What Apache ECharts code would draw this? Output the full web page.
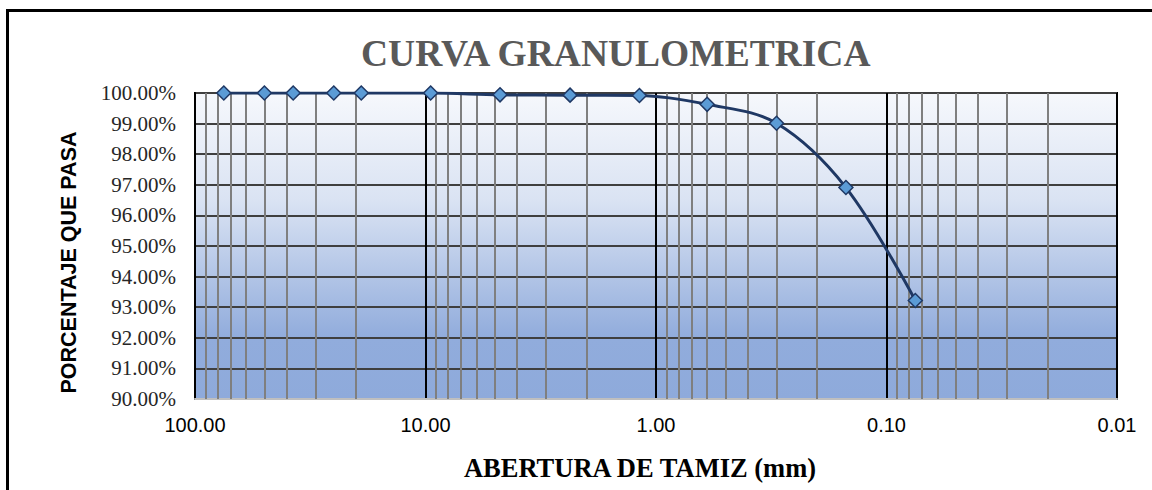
<!DOCTYPE html>
<html>
<head>
<meta charset="utf-8">
<script src="https://cdn.jsdelivr.net/npm/echarts@6/dist/echarts.min.js"></script>
<style>
  html, body { margin: 0; padding: 0; background: #ffffff; }
  #chart { width: 1152px; height: 490px; }
</style>
</head>
<body>
<div id="chart"></div>
<script>
// Sieve openings (mm) and cumulative percent passing
const sieveSizes = [75, 50, 37.5, 25, 19, 9.5, 4.75, 2.36, 1.18, 0.6, 0.3, 0.15, 0.075];
const percentPassing = [100, 100, 100, 100, 100, 100, 99.94, 99.93, 99.92, 99.63, 99.01, 96.91, 93.22];

// Axis ranges and ticks
const xDecades = [0.01, 0.1, 1, 10, 100];
const yTicks = [90, 91, 92, 93, 94, 95, 96, 97, 98, 99, 100];
const minorMultiples = [2, 3, 4, 5, 6, 7, 8, 9];

const titleText = 'CURVA GRANULOMETRICA';
const xName = 'ABERTURA DE TAMIZ (mm)';
const yName = 'PORCENTAJE QUE PASA';

// Intermediate log grid lines (2..9 within each decade)
const minorLines = [];
for (let d = 0; d < xDecades.length - 1; d++) {
  for (const m of minorMultiples) {
    minorLines.push({ xAxis: +(xDecades[d] * m).toPrecision(6) });
  }
}

const points = sieveSizes.map((s, i) => [s, percentPassing[i]]);

const chart = echarts.init(document.getElementById('chart'), null, { renderer: 'svg' });
chart.setOption({
  animation: false,
  backgroundColor: '#ffffff',
  title: {
    text: titleText,
    left: 361,
    top: 34,
    padding: 0,
    textStyle: {
      fontFamily: '"Liberation Serif", "Times New Roman", serif',
      fontWeight: 'bold',
      fontSize: 37.5,
      color: '#595959'
    }
  },
  graphic: [{
    type: 'rect',
    silent: true,
    shape: { x: 7.5, y: 10.5, width: 1300, height: 700 },
    style: { fill: 'none', stroke: '#000000', lineWidth: 3 }
  }],
  grid: {
    left: 195, top: 93, right: 35, bottom: 91,
    show: true,
    borderColor: '#000000',
    borderWidth: 2,
    backgroundColor: {
      type: 'linear', x: 0, y: 0, x2: 0, y2: 1,
      colorStops: [
        { offset: 0, color: '#f6f8fc' },
        { offset: 0.35, color: '#dae3f3' },
        { offset: 0.8, color: '#91acdc' },
        { offset: 1, color: '#8eaadb' }
      ]
    }
  },
  xAxis: {
    type: 'log',
    logBase: 10,
    inverse: true,
    min: xDecades[0],
    max: xDecades[xDecades.length - 1],
    name: xName,
    nameLocation: 'middle',
    nameGap: 55,
    nameTextStyle: {
      fontFamily: '"Liberation Serif", "Times New Roman", serif',
      fontWeight: 'bold',
      fontSize: 26.5,
      color: '#000000',
      padding: [0, 32, 0, 0]
    },
    axisLine: { show: true, lineStyle: { color: '#bfbfbf', width: 2 } },
    axisTick: { show: false },
    axisLabel: {
      margin: 16,
      showMinLabel: true,
      showMaxLabel: true,
      fontFamily: '"Liberation Sans", Arial, sans-serif',
      fontSize: 20,
      color: '#000000',
      formatter: v => Number(v).toFixed(2)
    },
    splitLine: { show: true, lineStyle: { color: '#000000', width: 2 } }
  },
  yAxis: {
    type: 'value',
    min: yTicks[0],
    max: yTicks[yTicks.length - 1],
    interval: 1,
    name: yName,
    nameLocation: 'middle',
    nameGap: 115,
    nameTextStyle: {
      fontFamily: '"Liberation Sans", Arial, sans-serif',
      fontWeight: 'bold',
      fontSize: 21.5,
      color: '#000000',
      padding: [0, 33, 0, 0]
    },
    axisLine: { show: true, lineStyle: { color: '#000000', width: 2 } },
    axisTick: { show: false },
    axisLabel: {
      margin: 19,
      fontFamily: '"Liberation Serif", "Times New Roman", serif',
      fontSize: 21,
      color: '#262626',
      padding: [10, 0, 0, 0],
      formatter: v => Number(v).toFixed(2) + '%'
    },
    splitLine: { show: true, lineStyle: { color: '#3f3f3f', width: 2 } }
  },
  series: [
    {
      // intermediate vertical grid lines
      type: 'line',
      data: [],
      silent: true,
      z: 1,
      markLine: {
        silent: true,
        symbol: ['none', 'none'],
        label: { show: false },
        lineStyle: { color: '#7f7f7f', width: 2, type: 'solid' },
        emphasis: { disabled: true },
        data: minorLines
      }
    },
    {
      name: 'Porcentaje que pasa',
      type: 'line',
      z: 5,
      data: points,
      smooth: 0.35,
      symbol: 'diamond',
      symbolSize: 14,
      lineStyle: { color: '#1f3864', width: 3 },
      itemStyle: { color: '#5b9bd5', borderColor: '#1f3864', borderWidth: 1.5 }
    }
  ]
});
</script>
</body>
</html>
